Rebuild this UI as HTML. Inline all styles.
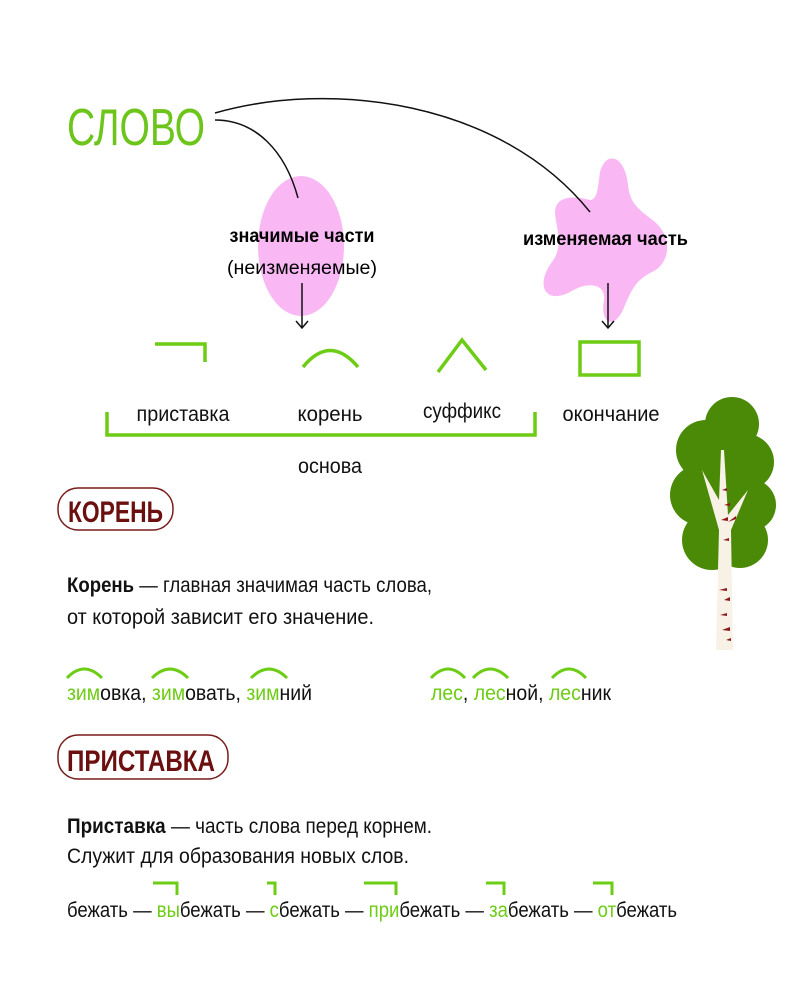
<!DOCTYPE html>
<html><head><meta charset="utf-8"><style>
html,body{margin:0;padding:0;background:#fff;}
svg{display:block;font-family:"Liberation Sans","Noto Sans CJK SC",sans-serif;}
</style></head><body>
<svg width="800" height="1000" viewBox="0 0 800 1000" xmlns="http://www.w3.org/2000/svg">
<rect width="800" height="1000" fill="#fff"/>
<ellipse cx="301" cy="246" rx="43" ry="70" fill="#f9b8f4"/>
<path d="M600 172 C606 150 625 155 628 185 C630 205 640 210 655 222 C675 240 668 265 652 272 C632 282 630 295 622 312 C612 330 600 322 604 300 C606 285 590 280 570 292 C545 305 535 285 552 262 C565 245 555 225 555 212 C556 195 575 196 590 200 C598 200 598 185 600 172 Z" fill="#f9b8f4"/>
<text x="67" y="145" font-size="52" fill="#6dc51c" textLength="138" lengthAdjust="spacingAndGlyphs">СЛОВО</text>
<path d="M215 120 C255 120 285 150 298 198" fill="none" stroke="#111" stroke-width="1.5"/>
<path d="M215 113 C330 80 500 100 590 212" fill="none" stroke="#111" stroke-width="1.5"/>
<text x="302" y="242" font-size="19" font-weight="bold" text-anchor="middle" textLength="145" lengthAdjust="spacingAndGlyphs">значимые части</text>
<text x="302" y="274" font-size="19" text-anchor="middle" textLength="150" lengthAdjust="spacingAndGlyphs">(неизменяемые)</text>
<text x="523" y="245" font-size="19" font-weight="bold" textLength="165" lengthAdjust="spacingAndGlyphs">изменяемая часть</text>
<g stroke="#111" stroke-width="1.5" fill="none">
<line x1="302" y1="283" x2="302" y2="328"/><path d="M296 321 L302 328 L308 321"/>
<line x1="608" y1="283" x2="608" y2="328"/><path d="M602 321 L608 328 L614 321"/>
</g>
<g stroke="#6dcc14" stroke-width="3.5" fill="none">
<path d="M155 344 L205 344 L205 362"/>
<path d="M303 367 Q330 334 358 367"/>
<path d="M438 372 L462 340 L486 370"/>
<rect x="580" y="342" width="59" height="33"/>
<path d="M107 412 L107 435 L535 435 L535 412"/>
</g>
<g font-size="21" fill="#111">
<text x="183" y="421" text-anchor="middle" textLength="93" lengthAdjust="spacingAndGlyphs">приставка</text>
<text x="330" y="421" text-anchor="middle" textLength="65" lengthAdjust="spacingAndGlyphs">корень</text>
<text x="462" y="418" text-anchor="middle" textLength="78" lengthAdjust="spacingAndGlyphs">суффикс</text>
<text x="611" y="421" text-anchor="middle" textLength="97" lengthAdjust="spacingAndGlyphs">окончание</text>
<text x="330" y="473" text-anchor="middle" textLength="64" lengthAdjust="spacingAndGlyphs">основа</text>
</g>
<rect x="58" y="488" width="115" height="42" rx="20" fill="none" stroke="#7a1c1c" stroke-width="1.5"/>
<text x="68" y="522" font-size="30" font-weight="bold" fill="#6b0f0f" textLength="95" lengthAdjust="spacingAndGlyphs">КОРЕНЬ</text>
<g font-size="21" fill="#111">
<text x="67" y="592" textLength="365" lengthAdjust="spacingAndGlyphs"><tspan font-weight="bold">Корень</tspan> — главная значимая часть слова,</text>
<text x="67" y="624" textLength="307" lengthAdjust="spacingAndGlyphs">от которой зависит его значение.</text>
</g>
<g stroke="#6dcc14" stroke-width="3" fill="none">
<path d="M67 678 Q84 660 102 678"/><path d="M152 678 Q170 660 188 678"/><path d="M251 678 Q269 660 287 678"/>
<path d="M431 678 Q448 660 465 678"/><path d="M473 678 Q490 660 508 678"/><path d="M552 678 Q569 660 586 678"/>
</g>
<g font-size="21" fill="#111">
<text x="67" y="700" textLength="245" lengthAdjust="spacingAndGlyphs"><tspan fill="#6dcc14">зим</tspan>овка, <tspan fill="#6dcc14">зим</tspan>овать, <tspan fill="#6dcc14">зим</tspan>ний</text>
<text x="431" y="700" textLength="180" lengthAdjust="spacingAndGlyphs"><tspan fill="#6dcc14">лес</tspan>, <tspan fill="#6dcc14">лес</tspan>ной, <tspan fill="#6dcc14">лес</tspan>ник</text>
</g>
<rect x="58" y="735" width="170" height="44" rx="20" fill="none" stroke="#7a1c1c" stroke-width="1.5"/>
<text x="67" y="771" font-size="30" font-weight="bold" fill="#6b0f0f" textLength="148" lengthAdjust="spacingAndGlyphs">ПРИСТАВКА</text>
<g font-size="21" fill="#111">
<text x="67" y="833" textLength="365" lengthAdjust="spacingAndGlyphs"><tspan font-weight="bold">Приставка</tspan> — часть слова перед корнем.</text>
<text x="67" y="863" textLength="342" lengthAdjust="spacingAndGlyphs">Служит для образования новых слов.</text>
</g>
<g stroke="#6dcc14" stroke-width="3" fill="none">
<path d="M153 883 L177 883 L177 895"/><path d="M267 883 L275 883 L275 895"/><path d="M364 883 L396 883 L396 895"/><path d="M486 883 L504 883 L504 895"/><path d="M593 883 L612 883 L612 895"/>
</g>
<text x="67" y="917" font-size="21" fill="#111" textLength="610" lengthAdjust="spacingAndGlyphs">бежать — <tspan fill="#6dcc14">вы</tspan>бежать — <tspan fill="#6dcc14">с</tspan>бежать — <tspan fill="#6dcc14">при</tspan>бежать — <tspan fill="#6dcc14">за</tspan>бежать — <tspan fill="#6dcc14">от</tspan>бежать</text>
<g fill="#4a8a06">
<circle cx="732" cy="424" r="27"/>
<circle cx="706" cy="450" r="30"/>
<circle cx="746" cy="462" r="28"/>
<circle cx="700" cy="495" r="30"/>
<circle cx="750" cy="505" r="26"/>
<circle cx="722" cy="480" r="40"/>
<circle cx="712" cy="540" r="30"/>
<circle cx="740" cy="540" r="28"/>
<rect x="690" y="460" width="70" height="90"/>
</g>
<path d="M721 450 L724 450 L728 515 L748 490 L731 530 L733 650 L716 650 L719 530 L702 470 L719 500 Z" fill="#f8f1e6"/>
<g fill="#8b1a1a">
<path d="M722 490 l5 -2 l0 3z"/><path d="M724 505 l6 -2 l0 3z"/><path d="M721 520 l7 -3 l0 4z"/><path d="M723 540 l6 -2 l0 3z"/><path d="M719 590 l8 -2 l0 3z"/><path d="M724 600 l6 -3 l0 4z"/><path d="M720 615 l7 -2 l0 3z"/><path d="M722 630 l8 -3 l0 4z"/><path d="M726 640 l5 -2 l0 3z"/><path d="M728 522 l8 -6 l0 3z"/>
</g>
</svg>
</body></html>
